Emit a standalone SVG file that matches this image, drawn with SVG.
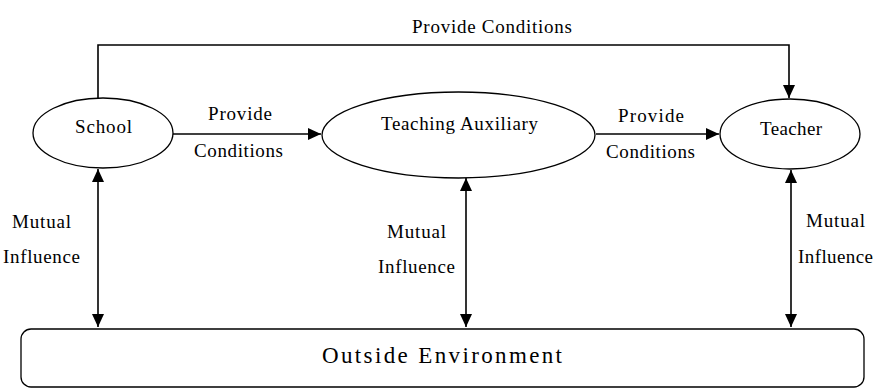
<svg xmlns="http://www.w3.org/2000/svg" width="875" height="389" viewBox="0 0 875 389" font-family="'Liberation Serif', 'Times New Roman', serif">
<style>
.n{fill:#fff;stroke:#000;stroke-width:1.3}
.c{fill:none;stroke:#000;stroke-width:1.6}
text{font-family:'Liberation Serif','Times New Roman',serif;font-size:19px;fill:#000}
.big{font-size:23px}
</style>
<defs>
<marker id="a" markerUnits="userSpaceOnUse" markerWidth="14" markerHeight="12" refX="13" refY="6" orient="auto-start-reverse">
<path d="M0,0 L13,6 L0,12 Z" fill="#000"/>
</marker>
</defs>
<rect width="875" height="389" fill="#fff"/>
<g id="connectors">
<path class="c" d="M98,98 V45 H789 V98" marker-end="url(#a)"/>
<path class="c" d="M173,134 H321" marker-end="url(#a)"/>
<path class="c" d="M596,134 H719" marker-end="url(#a)"/>
<path class="c" d="M98,169 V327" marker-start="url(#a)" marker-end="url(#a)"/>
<path class="c" d="M466,178 V327" marker-start="url(#a)" marker-end="url(#a)"/>
<path class="c" d="M791,170 V327" marker-start="url(#a)" marker-end="url(#a)"/>
<text x="412" y="33" textLength="160">Provide Conditions</text>
<text x="208" y="120" textLength="64">Provide</text>
<text x="194" y="157" textLength="89">Conditions</text>
<text x="618" y="122" textLength="66">Provide</text>
<text x="606" y="158" textLength="89">Conditions</text>
<text x="12" y="228" textLength="59">Mutual</text>
<text x="3" y="263" textLength="77">Influence</text>
<text x="387" y="238" textLength="59">Mutual</text>
<text x="378" y="273" textLength="77">Influence</text>
<text x="806" y="227" textLength="59">Mutual</text>
<text x="798" y="263" textLength="75">Influence</text>
</g>
<g id="school">
<ellipse class="n" cx="103" cy="133" rx="70" ry="35"/>
<text x="75" y="133" textLength="57">School</text>
</g>
<g id="teaching-auxiliary">
<ellipse class="n" cx="458.5" cy="135" rx="136.5" ry="43"/>
<text x="381" y="130" textLength="157">Teaching Auxiliary</text>
</g>
<g id="teacher">
<ellipse class="n" cx="790" cy="134" rx="70" ry="35"/>
<text x="760" y="135" textLength="62">Teacher</text>
</g>
<g id="outside-environment">
<rect class="n" x="21" y="329" width="843" height="58" rx="10"/>
<text class="big" x="322" y="363" textLength="240">Outside Environment</text>
</g>
</svg>
